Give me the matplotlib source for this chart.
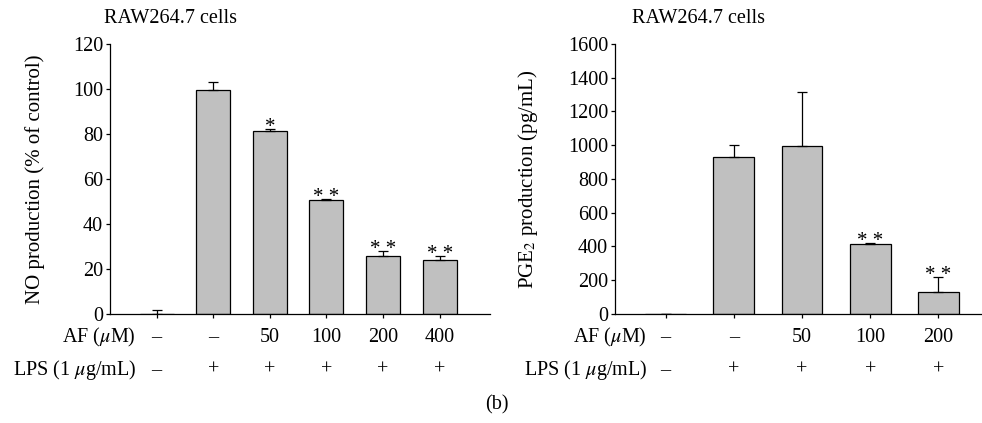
import matplotlib
matplotlib.use("Agg")
import matplotlib.pyplot as plt
import matplotlib.transforms as mtransforms
import numpy as np

plt.rcParams['font.family'] = ['Liberation Serif', 'DejaVu Serif']
plt.rcParams['mathtext.fontset'] = 'stix'
plt.rcParams['font.size'] = 14.5

# NO panel
no_af = ['–', '–', '50', '100', '200', '400']
no_lps = ['–', '+', '+', '+', '+', '+']
no_mean = [0, 99.4, 81.2, 50.6, 25.5, 23.8]
no_err = [1.5, 3.6, 0.8, 0.4, 2.5, 1.9]
no_stars = ['', '', '*', '* *', '* *', '* *']

# PGE2 panel
pge_af = ['–', '–', '50', '100', '200']
pge_lps = ['–', '+', '+', '+', '+']
pge_mean = [0, 929, 996, 411, 129]
pge_err = [0, 71, 320, 6, 87]
pge_stars = ['', '', '', '* *', '* *']

fig = plt.figure(figsize=(9.82, 4.23), dpi=100)
ax1 = fig.add_axes([0.112, 0.2584, 0.387, 0.6376])
ax2 = fig.add_axes([0.6263, 0.2584, 0.3737, 0.6376])

AF_Y = 1 - 342 / 423
LPS_Y = 1 - 375 / 423


def panel(ax, mean, err, stars, af, lps, ymax, ystep, xlim, ylabel, row_x, title_x):
    x = np.arange(len(mean))
    lower = np.zeros(len(err))
    ax.bar(x, mean, 0.6, color='#c0c0c0', edgecolor='black', linewidth=0.9,
           yerr=[lower, err], capsize=3.5,
           error_kw=dict(elinewidth=0.9, capthick=0.9, ecolor='black'))
    ax.set_xlim(*xlim)
    ax.set_ylim(0, ymax)
    ax.set_yticks(np.arange(0, ymax + 1, ystep))
    ax.set_xticks(x)
    ax.set_xticklabels([])
    ax.tick_params(direction='out', length=3, width=0.9, pad=2)
    for s in ['top', 'right']:
        ax.spines[s].set_visible(False)
    for s in ['left', 'bottom']:
        ax.spines[s].set_linewidth(0.9)
    ax.set_ylabel(ylabel, fontsize=15)
    for xi, m, e, s in zip(x, mean, err, stars):
        if s:
            ax.annotate(s, (xi, m + e), xytext=(0, -2), textcoords='offset points',
                        ha='center', va='baseline', fontsize=15)
    tr = mtransforms.blended_transform_factory(ax.transData, fig.transFigure)
    for xi, a, l in zip(x, af, lps):
        ax.text(xi, AF_Y, a, transform=tr, ha='center', va='baseline')
        ax.text(xi, LPS_Y, l, transform=tr, ha='center', va='baseline')
    fig.text(row_x, AF_Y, r'AF ($\mu$M)', ha='right', va='baseline')
    fig.text(row_x, LPS_Y, r'LPS (1 $\mu$g/mL)', ha='right', va='baseline')
    fig.text(title_x, 1 - 23 / 423, 'RAW264.7 cells', ha='center', va='baseline')


panel(ax1, no_mean, no_err, no_stars, no_af, no_lps, 120, 20, (-0.825, 5.89),
      'NO production (% of control)', 136 / 982, 170 / 982)
panel(ax2, pge_mean, pge_err, pge_stars, pge_af, pge_lps, 1600, 200, (-0.743, 4.64),
      r'PGE$_2$ production (pg/mL)', 647 / 982, 698 / 982)
ax1.yaxis.set_label_coords(-0.171, 0.5)
ax2.yaxis.set_label_coords(-0.204, 0.5)

fig.text(497 / 982, 1 - 409 / 423, '(b)', ha='center', va='baseline')

fig.savefig('out.png', dpi=100)
